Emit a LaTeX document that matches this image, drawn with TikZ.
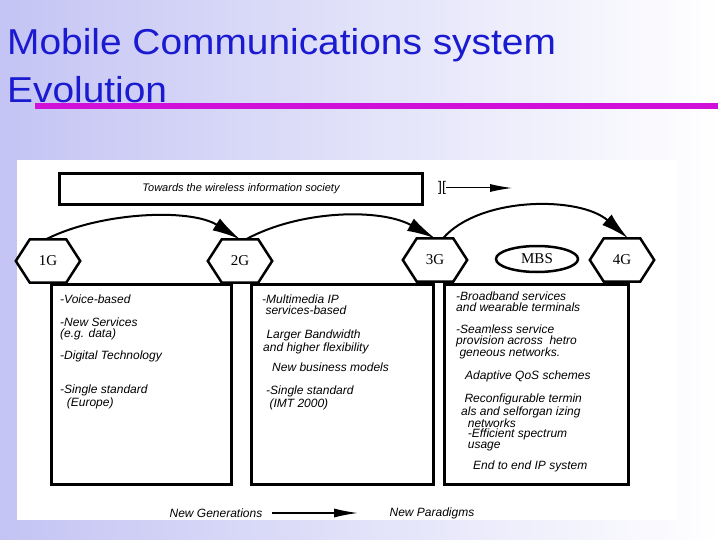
\documentclass[tikz,border=0pt]{standalone}
\usepackage{fontspec}
\setmainfont{Liberation Sans}
\newfontfamily\serifg{Liberation Serif}
\usetikzlibrary{shapes.geometric,arrows.meta}
\definecolor{ttl}{HTML}{1A1AD0}
\definecolor{bgl}{HTML}{C4C4F4}
\definecolor{mag}{HTML}{D010D8}
\begin{document}
\begin{tikzpicture}[x=1pt,y=-1pt,
  hexa/.style={minimum width=64pt,minimum height=43pt,inner sep=0pt,font=\fontsize{15}{15}\serifg},
  hexline/.style={line width=2.5pt,line join=miter},
  infobox/.style={draw,line width=2.5pt},
  itxt/.style={font=\fontsize{12}{10.5}\selectfont\itshape,align=left,anchor=north west,inner sep=0pt},
  bigarr/.style={line width=2pt,-{Latex[length=28pt,width=14pt]}}]
\useasboundingbox (0,0) rectangle (720,540);
\shade[left color=bgl,right color=white] (0,0) rectangle (720,540);
\fill[white] (17,160) rectangle (678,520);
\node[anchor=north west,text=ttl,font=\fontsize{36}{48}\selectfont,align=left,inner sep=0pt] (title) at (7,28) {\scalebox{1.08}[1]{Mobile Communications system}\\\scalebox{1.08}[1]{Evolution}};
\draw[mag,line width=6pt] (35,106) -- (718,106);
\node[draw,line width=2.5pt,minimum width=363pt,minimum height=31pt,font=\fontsize{11}{11}\selectfont\itshape] (top) at (241,189) {Towards the wireless information society};
\node[font=\fontsize{14}{14}\selectfont,inner sep=0pt] (br) at (442,188) {][};
\coordinate (ae) at (512,188);
\draw[line width=1pt,-{Latex[length=22pt,width=8pt]}] (br.east) -- (ae);
\foreach \n/\t/\x/\y in {g1/1G/48/261,g2/2G/240/261,g3/3G/435/260,g4/4G/622/260}{
  \node[hexa] (\n) at (\x,\y) {\t};
  \draw[hexline] ([xshift=14pt]\n.north west) -- ([xshift=-14pt]\n.north east) -- (\n.east) -- ([xshift=-14pt]\n.south east) -- ([xshift=14pt]\n.south west) -- (\n.west) -- cycle;
}
\node[ellipse,draw,line width=2.5pt,minimum width=82pt,minimum height=26pt,inner sep=0pt,font=\fontsize{15}{15}\serifg] (mbs) at (537,259) {MBS};
\draw[bigarr] ([xshift=-2pt]g1.north) .. controls (100,212) and (190,208) .. (g2.north);
\draw[bigarr] ([xshift=6pt]g2.north) .. controls (300,210) and (380,208) .. (g3.north);
\draw[bigarr] ([xshift=8pt]g3.north) .. controls (480,196) and (580,196) .. ([xshift=6pt]g4.north);
\node[infobox,minimum width=180pt,minimum height=200pt,anchor=north west] (b1) at (50,283) {};
\node[infobox,minimum width=182pt,minimum height=200pt,anchor=north west] (b2) at (250,283) {};
\node[infobox,minimum width=184pt,minimum height=200pt,anchor=north west] (b3) at (443,283) {};
\node[itxt] (t11) at (60,295) {-Voice-based};
\node[itxt] (t12) at (60,318) {-New Services\\(e.g. data)};
\node[itxt] (t13) at (60,351) {-Digital Technology};
\node[itxt] (t14) at (60,385) {-Single standard\\\ \ (Europe)};
\node[itxt] (t21) at (262,295) {-Multimedia IP\\\ services-based};
\node[itxt] (t22) at (263,330) {\ Larger Bandwidth\\and higher flexibility};
\node[itxt] (t23) at (272,363) {New business models};
\node[itxt] (t24) at (266,386) {-Single standard\\\ (IMT 2000)};
\node[itxt] (t31) at (456,292) {-Broadband services\\and wearable terminals};
\node[itxt] (t32) at (456,325) {-Seamless service\\provision across \ hetro\\\ geneous networks.};
\node[itxt] (t33) at (465,371) {Adaptive QoS schemes};
\node[itxt] (t34) at (461,394) {\ Reconfigurable termin\\als and selforgan izing\\\ \ networks\\\ \ -Efficient spectrum\\\ \ usage};
\node[itxt] (t35) at (473,461) {End to end IP system};
\node[font=\fontsize{12}{12}\selectfont\itshape] (ng) at (216,513) {New Generations};
\node[font=\fontsize{12}{12}\selectfont\itshape] (np) at (432,513) {New Paradigms};
\draw[line width=1.5pt,-{Latex[length=24pt,width=9pt]}] ([xshift=6pt]ng.east) -- ([xshift=-28pt]np.west);
\end{tikzpicture}
\end{document}
